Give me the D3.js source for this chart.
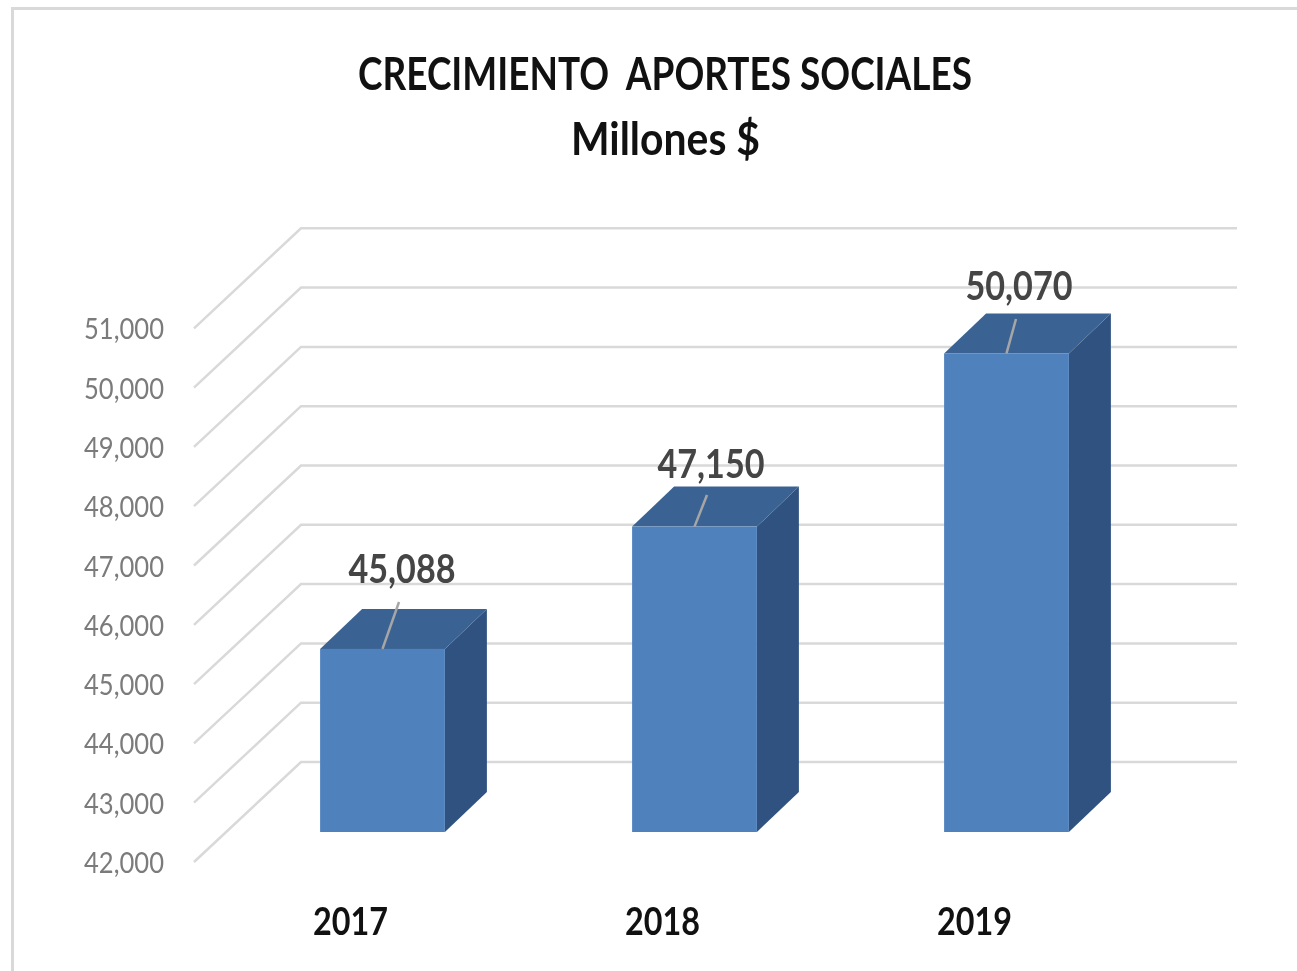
<!DOCTYPE html>
<html>
<head>
<meta charset="utf-8">
<script src="https://d3js.org/d3.v7.min.js"></script>
<style>
  html, body { margin: 0; padding: 0; background: #fff; }
  text { font-family: Lato, "Open Sans", sans-serif; }
  /* the reference is a soft, resampled picture */
  #chart { display: block; filter: blur(0.6px); }
</style>
</head>
<body>
<svg id="chart" width="1297" height="971"></svg>
<script>
// Chart data
const years = ["2017", "2018", "2019"];
const aportes = [45088, 47150, 50070];
const valueLabels = ["45,088", "47,150", "50,070"];
const axisTicks = [42000, 43000, 44000, 45000, 46000, 47000, 48000, 49000, 50000, 51000];
const titleLines = ["CRECIMIENTO  APORTES SOCIALES", "Millones $"];

const svg = d3.select("#chart");

// Scales, for the front plane of the bars
const xScale = d3.scaleBand()
  .domain(years)
  .range([226.5, 1162.5])
  .paddingInner(0.6)
  .paddingOuter(0.3);

const yScale = d3.scaleLinear()
  .domain([42000, 51000])
  .range([832, 298.3]);

// Fake 3D offsets
const bar = { dx: 42, dy: -40 };
const wall = { x: 301, dy: -70, right: 1237 };
const floor = { x: 194, dy: 30 };

// Frame around the picture
svg.append("path")
  .attr("d", "M12.5,971V8.5H1297")
  .attr("fill", "none")
  .attr("stroke", "#d9d9d9")
  .attr("stroke-width", 3);

// Title
svg.selectAll(".title")
  .data(titleLines)
  .enter()
  .append("text")
  .attr("class", "title")
  .attr("x", (d, i) => i === 0 ? 358 : 571)
  .attr("y", (d, i) => i === 0 ? 90 : 155)
  .attr("textLength", (d, i) => i === 0 ? 614 : 189)
  .attr("lengthAdjust", "spacingAndGlyphs")
  .attr("font-size", 45)
  .attr("font-weight", 700)
  .attr("fill", "#111")
  .style("white-space", "pre")
  .text(d => d);

// Gridlines: side wall + back wall
svg.selectAll(".grid")
  .data(axisTicks)
  .enter()
  .append("path")
  .attr("class", "grid")
  .attr("fill", "none")
  .attr("stroke", "#d9d9d9")
  .attr("stroke-width", 2.5)
  .attr("d", d => {
    const y = yScale(d);
    return `M${floor.x},${y + floor.dy}L${wall.x},${y + wall.dy}H${wall.right}`;
  });

// Y axis labels
svg.selectAll(".tick-label")
  .data(axisTicks)
  .enter()
  .append("text")
  .attr("class", "tick-label")
  .attr("x", 164)
  .attr("y", d => yScale(d) + floor.dy + 11)
  .attr("text-anchor", "end")
  .attr("textLength", 80)
  .attr("lengthAdjust", "spacingAndGlyphs")
  .attr("font-size", 29)
  .attr("fill", "#7b7b7b")
  .text(d => d3.format(",")(d));

// Bars
const bars = svg.selectAll(".bar")
  .data(years)
  .enter()
  .append("g")
  .attr("class", "bar");

// side face
bars.append("path")
  .attr("fill", "#2f5280")
  .attr("d", (d, i) => {
    const x1 = xScale(d) + xScale.bandwidth();
    const top = yScale(aportes[i]);
    const base = yScale(42000);
    return `M${x1},${top}l${bar.dx},${bar.dy}V${base + bar.dy}L${x1},${base}Z`;
  });

// top face
bars.append("path")
  .attr("fill", "#3a6394")
  .attr("d", (d, i) => {
    const x0 = xScale(d);
    const w = xScale.bandwidth();
    const top = yScale(aportes[i]);
    return `M${x0},${top}l${bar.dx},${bar.dy}h${w}l${-bar.dx},${-bar.dy}Z`;
  });

// front face
bars.append("rect")
  .attr("fill", "#4f81bd")
  .attr("x", d => xScale(d))
  .attr("y", (d, i) => yScale(aportes[i]))
  .attr("width", xScale.bandwidth())
  .attr("height", (d, i) => yScale(42000) - yScale(aportes[i]));

// Leader lines from bar to its label
const leaderEnds = [[399, 602], [707, 495], [1016, 319]];
svg.selectAll(".leader")
  .data(years)
  .enter()
  .append("line")
  .attr("class", "leader")
  .attr("x1", d => xScale(d) + xScale.bandwidth() / 2)
  .attr("y1", (d, i) => yScale(aportes[i]))
  .attr("x2", (d, i) => leaderEnds[i][0])
  .attr("y2", (d, i) => leaderEnds[i][1])
  .attr("stroke", "#a6a6a6")
  .attr("stroke-width", 2.5);

// Value labels, hand placed like in the original
const labelSpots = [[402, 583], [711, 478], [1019, 300]];
svg.selectAll(".value-label")
  .data(valueLabels)
  .enter()
  .append("text")
  .attr("class", "value-label")
  .attr("x", (d, i) => labelSpots[i][0])
  .attr("y", (d, i) => labelSpots[i][1])
  .attr("text-anchor", "middle")
  .attr("textLength", 107)
  .attr("lengthAdjust", "spacingAndGlyphs")
  .attr("font-size", 41)
  .attr("font-weight", 700)
  .attr("fill", "#454545")
  .text(d => d);

// Category labels
svg.selectAll(".year-label")
  .data(years)
  .enter()
  .append("text")
  .attr("class", "year-label")
  .attr("x", d => xScale(d) + xScale.bandwidth() / 2 - 32)
  .attr("y", 935)
  .attr("text-anchor", "middle")
  .attr("textLength", 75)
  .attr("lengthAdjust", "spacingAndGlyphs")
  .attr("font-size", 39)
  .attr("font-weight", 700)
  .attr("fill", "#111")
  .text(d => d);
</script>
</body>
</html>
